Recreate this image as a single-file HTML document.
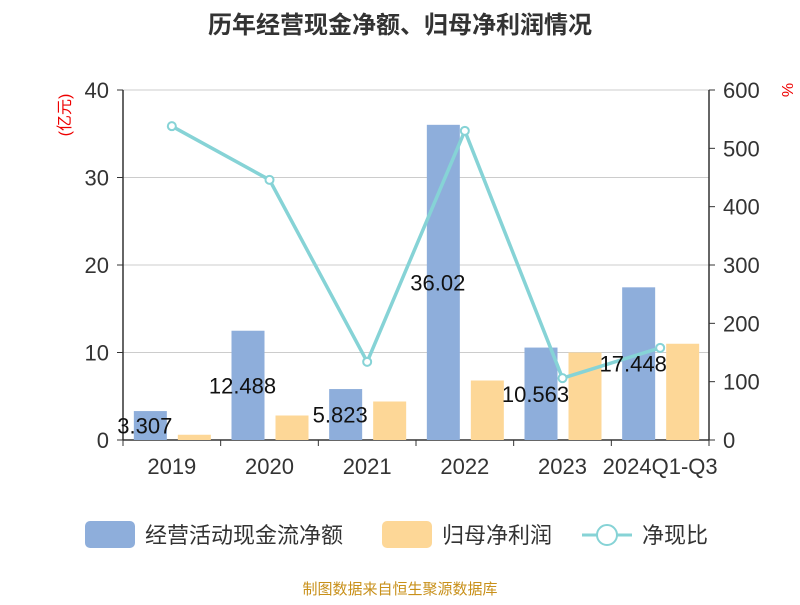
<!DOCTYPE html>
<html><head><meta charset="utf-8"><style>
body{margin:0;background:#fff;font-family:"Liberation Sans","Noto Sans CJK SC",sans-serif}
svg text{font-family:"Liberation Sans","Noto Sans CJK SC",sans-serif}
</style></head><body>
<svg id="c" width="800" height="600" xmlns="http://www.w3.org/2000/svg">
<text x="400" y="33" text-anchor="middle" font-size="24" font-weight="bold" fill="#333">历年经营现金净额、归母净利润情况</text>
<text transform="translate(70,115) rotate(-90)" text-anchor="middle" font-size="16" fill="#e00">(亿元)</text>
<text transform="translate(782,90) rotate(90)" text-anchor="middle" font-size="16" fill="#e00">%</text>
<g id="grid"></g><g id="bars"></g><g id="axes"></g><g id="line"></g><g id="labels"></g>
<g>
<rect x="85" y="521" width="50" height="27" rx="5" fill="#8eaedb"/>
<text x="145" y="543" font-size="22" fill="#333">经营活动现金流净额</text>
<rect x="382" y="521" width="50" height="27" rx="5" fill="#fdd797"/>
<text x="442" y="543" font-size="22" fill="#333">归母净利润</text>
<line x1="582" y1="535" x2="632" y2="535" stroke="#86d3d6" stroke-width="3"/>
<circle cx="607" cy="535" r="10" fill="#fff" stroke="#86d3d6" stroke-width="2"/>
<text x="642" y="543" font-size="22" fill="#333">净现比</text>
</g>
<text x="400" y="594" text-anchor="middle" font-size="15" fill="#c8901a">制图数据来自恒生聚源数据库</text>
</svg>
<script>
const categories=["2019","2020","2021","2022","2023","2024Q1-Q3"];
const cashFlow=[3.307,12.488,5.823,36.02,10.563,17.448];
const cashLabels=["3.307","12.488","5.823","36.02","10.563","17.448"];
const netProfit=[0.6,2.8,4.4,6.8,10.0,11.0];
const ratio=[538,446,134,530,106,158];
const leftTicks=[0,10,20,30,40];
const rightTicks=[0,100,200,300,400,500,600];
const NS="http://www.w3.org/2000/svg";
const X0=123,X1=709,Y0=440,Y1=90;
const bw=(X1-X0)/categories.length;
const yL=v=>Y0-(v/40)*(Y0-Y1);
const yR=v=>Y0-(v/600)*(Y0-Y1);
const xc=i=>X0+bw*(i+0.5);
function mk(t,a,p){const e=document.createElementNS(NS,t);for(const k in a)e.setAttribute(k,a[k]);document.getElementById(p).appendChild(e);return e;}
leftTicks.forEach(v=>{
 const g=mk("line",{x1:X0,x2:X1,y1:yL(v),y2:yL(v),stroke:v?"#ccc":"#333","stroke-width":v?1:1.5},"grid");
 
 
 mk("line",{x1:X0-6,x2:X0,y1:yL(v),y2:yL(v),stroke:"#333"},"axes");
 const t=mk("text",{x:X0-14,y:yL(v)+8,"text-anchor":"end","font-size":22,fill:"#333"},"axes");t.textContent=v;
 
 
});
rightTicks.forEach(v=>{
 mk("line",{x1:X1,x2:X1+6,y1:yR(v),y2:yR(v),stroke:"#333"},"axes");
 const t=mk("text",{x:X1+14,y:yR(v)+8,"font-size":22,fill:"#333"},"axes");t.textContent=v;
 
 
});
mk("line",{x1:X0,x2:X0,y1:Y1,y2:Y0,stroke:"#333","stroke-width":1.5},"axes");
mk("line",{x1:X1,x2:X1,y1:Y1,y2:Y0,stroke:"#333","stroke-width":1.5},"axes");
for(let i=0;i<=categories.length;i++)mk("line",{x1:X0+bw*i,x2:X0+bw*i,y1:Y0,y2:Y0+6,stroke:"#333"},"axes");
categories.forEach((c,i)=>{
 const t=mk("text",{x:xc(i),y:474,"text-anchor":"middle","font-size":22,fill:"#333"},"axes");t.textContent=c;
 
 
 const b=mk("rect",{x:xc(i)-38,y:yL(cashFlow[i]),width:33,height:Y0-yL(cashFlow[i]),fill:"#8eaedb"},"bars");
 
 
 const o=mk("rect",{x:xc(i)+6,y:yL(netProfit[i]),width:33,height:Y0-yL(netProfit[i]),fill:"#fdd797"},"bars");
 
 
 const l=mk("text",{x:xc(i)-27,y:(yL(cashFlow[i])+Y0)/2+8,"text-anchor":"middle","font-size":22,fill:"#111"},"labels");l.textContent=cashLabels[i];
 
 
});
const pl=mk("polyline",{points:ratio.map((v,i)=>xc(i)+","+yR(v)).join(" "),fill:"none",stroke:"#86d3d6","stroke-width":3.5},"line");


ratio.forEach((v,i)=>{
 const p=mk("circle",{cx:xc(i),cy:yR(v),r:4,fill:"#fff",stroke:"#86d3d6","stroke-width":2},"line");
 
 
});
</script>
</body></html>
